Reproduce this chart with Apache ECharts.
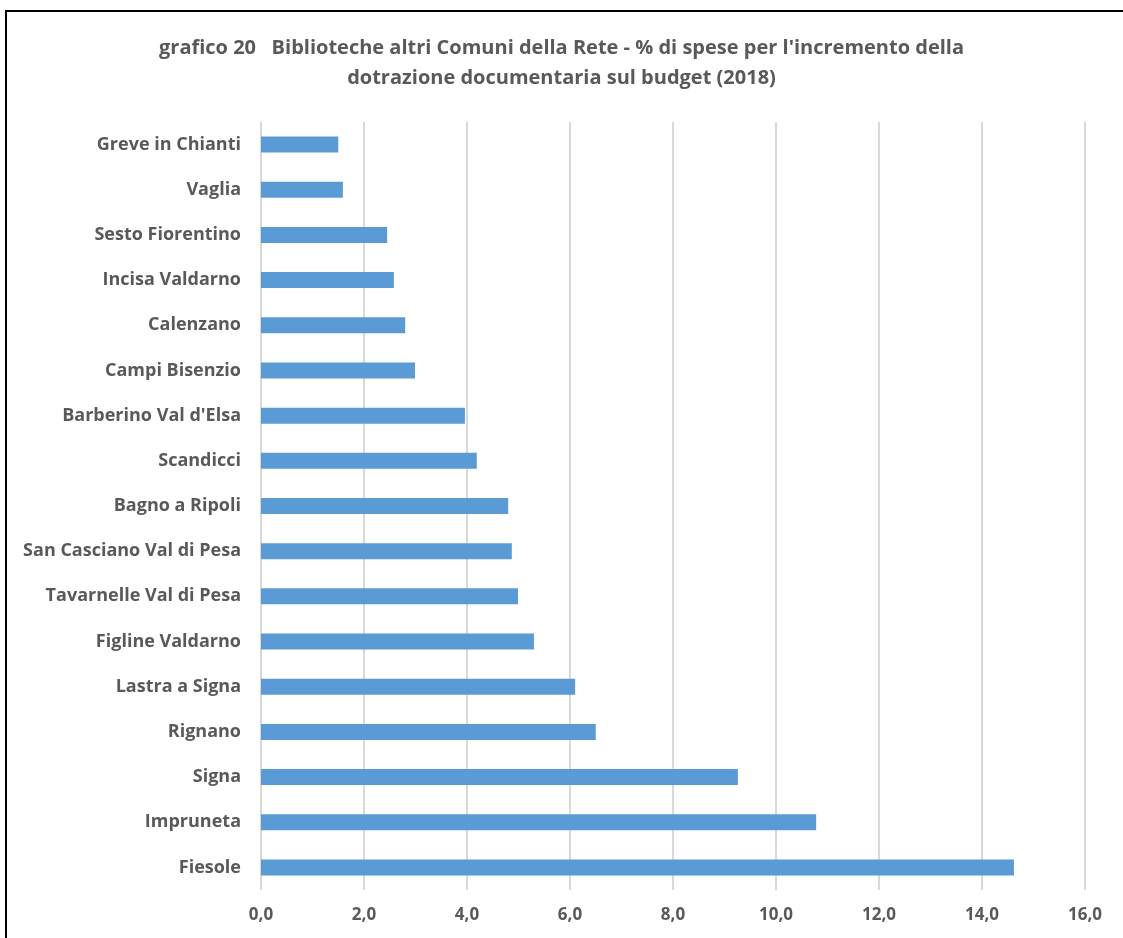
<!DOCTYPE html>
<html><head><meta charset="utf-8">
<script src="https://cdn.jsdelivr.net/npm/echarts@6/dist/echarts.min.js"></script>
<style>
html,body{margin:0;padding:0;background:#fff;overflow:hidden}
#frame{position:absolute;left:5px;top:10px;width:1130px;height:940px;border:2px solid #000;box-sizing:border-box}
#chart{position:absolute;left:0;top:0;width:1123px;height:938px}
</style></head>
<body>
<div id="frame"></div>
<div id="chart"></div>
<script>
const categories = ["Greve in Chianti","Vaglia","Sesto Fiorentino","Incisa Valdarno","Calenzano","Campi Bisenzio","Barberino Val d'Elsa","Scandicci","Bagno a Ripoli","San Casciano Val di Pesa","Tavarnelle Val di Pesa","Figline Valdarno","Lastra a Signa","Rignano","Signa","Impruneta","Fiesole"];
const values = [1.50,1.59,2.45,2.58,2.80,2.99,3.96,4.19,4.80,4.87,4.99,5.30,6.10,6.50,9.26,10.78,14.62];
const titleLines = ["grafico 20   Biblioteche altri Comuni della Rete - % di spese per l'incremento della","dotrazione documentaria sul budget (2018)"];
const font = "'Open Sans', 'Liberation Sans', sans-serif";
const chart = echarts.init(document.getElementById('chart'));
chart.setOption({
  animation:false,
  title:{text:titleLines.join('\n'),left:'center',top:28,
    textStyle:{fontFamily:font,fontSize:20,fontWeight:'bold',color:'#595959',lineHeight:30}},
  grid:{left:261,right:38,top:122,bottom:48,containLabel:false},
  xAxis:{type:'value',min:0,max:16,interval:2,
    axisLabel:{formatter:v=>v.toFixed(1).replace('.',','),fontFamily:font,fontSize:17,fontWeight:'bold',color:'#595959',margin:17},
    axisLine:{show:false},axisTick:{show:false},
    splitLine:{show:true,lineStyle:{color:'#d9d9d9',width:2}}},
  yAxis:{type:'category',data:categories,inverse:true,
    axisLine:{show:false},axisTick:{show:false},
    axisLabel:{fontFamily:font,fontSize:18,fontWeight:'bold',color:'#595959',margin:20}},
  series:[{type:'bar',data:values,barWidth:16,itemStyle:{color:'#5b9bd5'}}]
});
</script>
</body></html>
